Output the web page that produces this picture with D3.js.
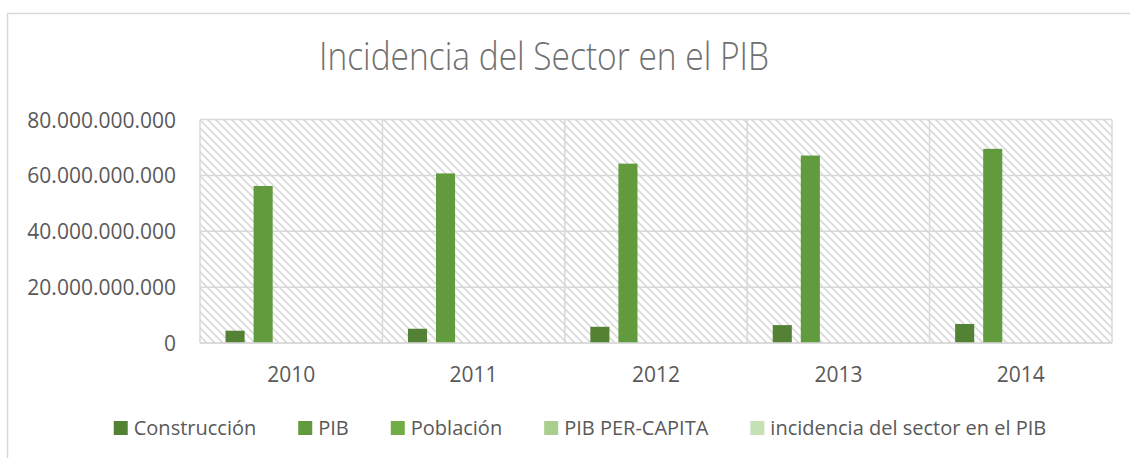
<!DOCTYPE html>
<html>
<head>
<meta charset="utf-8">
<script src="https://cdn.jsdelivr.net/npm/d3@7"></script>
<style>
  html, body { margin: 0; padding: 0; background: #ffffff; }
  svg { display: block; }
  text { font-family: "Open Sans", "Noto Sans", sans-serif; }
</style>
</head>
<body>
<svg id="chart" width="1130" height="458"></svg>
<script>
// ---- data ----
const years = ["2010", "2011", "2012", "2013", "2014"];
const seriesNames = ["Construcción", "PIB", "Población", "PIB PER-CAPITA", "incidencia del sector en el PIB"];
const construccion = [4.4e9, 5.1e9, 5.8e9, 6.4e9, 6.8e9];
const pib = [56.2e9, 60.7e9, 64.2e9, 67.1e9, 69.5e9];
const poblacion = [15.0e6, 15.3e6, 15.5e6, 15.8e6, 16.0e6];
const pibPerCapita = [3750, 3970, 4140, 4260, 4340];
const incidencia = [0.078, 0.084, 0.09, 0.095, 0.098];
const yTicks = [0, 20e9, 40e9, 60e9, 80e9];
const seriesColors = ["#548235", "#629b3e", "#70ad47", "#a9cf8f", "#c5e0b4"];

const seriesValues = [construccion, pib, poblacion, pibPerCapita, incidencia];

// ---- layout ----
const svg = d3.select("#chart");
const plot = { left: 200, right: 1112, top: 119.5, bottom: 343 };

const locale = d3.formatLocale({ decimal: ",", thousands: ".", grouping: [3], currency: ["$", ""] });
const fmt = locale.format(",.0f");

// outer frame
svg.append("rect")
  .attr("x", 7.5).attr("y", 13.5).attr("width", 1140).attr("height", 470)
  .attr("fill", "#ffffff").attr("stroke", "#d9d9d9").attr("stroke-width", 1.5);

// hatch pattern
const defs = svg.append("defs");
const pat = defs.append("pattern")
  .attr("id", "hatch").attr("patternUnits", "userSpaceOnUse")
  .attr("width", 8).attr("height", 8);
pat.append("rect").attr("width", 8).attr("height", 8).attr("fill", "#ffffff");
pat.append("path")
  .attr("d", "M-1,-1 L9,9 M-1,7 L1,9 M7,-1 L9,1")
  .attr("stroke", "#dadada").attr("stroke-width", 1.6);

// title
svg.append("text")
  .attr("x", 544).attr("y", 70)
  .attr("text-anchor", "middle")
  .attr("font-size", 38).attr("font-weight", 300)
  .attr("fill", "#707070")
  .attr("textLength", 450).attr("lengthAdjust", "spacingAndGlyphs")
  .text("Incidencia del Sector en el PIB");

// scales
const x0 = d3.scaleBand().domain(years).range([plot.left, plot.right]).paddingInner(0).paddingOuter(0);
const band = x0.bandwidth();
const slot = band / 6.5;
const x1 = d3.scaleBand().domain(seriesNames)
  .range([0.75 * slot, band - 0.75 * slot])
  .paddingInner(0.32).paddingOuter(0.16);
const y = d3.scaleLinear().domain([0, 80e9]).range([plot.bottom, plot.top]);

// plot background
svg.append("rect")
  .attr("x", plot.left).attr("y", plot.top)
  .attr("width", plot.right - plot.left).attr("height", plot.bottom - plot.top)
  .attr("fill", "url(#hatch)");

// horizontal gridlines
svg.append("g").selectAll("line").data(yTicks).join("line")
  .attr("x1", plot.left).attr("x2", plot.right)
  .attr("y1", d => y(d)).attr("y2", d => y(d))
  .attr("stroke", "#d9d9d9").attr("stroke-width", 1.5);

// vertical category separators
const sepX = years.map(d => x0(d)).concat([plot.right]);
svg.append("g").selectAll("line").data(sepX).join("line")
  .attr("x1", d => d).attr("x2", d => d)
  .attr("y1", plot.top).attr("y2", plot.bottom)
  .attr("stroke", "#d9d9d9").attr("stroke-width", 1.5);

// bars
const groups = svg.append("g").selectAll("g").data(years).join("g")
  .attr("transform", d => `translate(${x0(d)},0)`);
groups.selectAll("rect")
  .data((d, i) => seriesNames.map((s, j) => ({ s, j, v: seriesValues[j][i] })))
  .join("rect")
  .attr("x", d => x1(d.s))
  .attr("width", x1.bandwidth())
  .attr("y", d => y(d.v))
  .attr("height", d => y(0) - y(d.v))
  .attr("fill", d => seriesColors[d.j]);

// bottom axis line redraw on top
svg.append("line")
  .attr("x1", plot.left).attr("x2", plot.right)
  .attr("y1", y(0)).attr("y2", y(0))
  .attr("stroke", "#d9d9d9").attr("stroke-width", 1.5);

// y axis labels
const yAxis = d3.axisLeft(y).tickValues(yTicks).tickFormat(fmt).tickSize(0).tickPadding(0);
const gy = svg.append("g").attr("transform", `translate(176,0)`).call(yAxis);
gy.select(".domain").remove();
gy.selectAll("text")
  .attr("font-size", 21).attr("fill", "#595959")
  .attr("font-family", "'Open Sans', sans-serif")
  .attr("dy", "0.36em");

// x axis labels
const xAxis = d3.axisBottom(x0).tickSize(0).tickPadding(0);
const gx = svg.append("g").attr("transform", `translate(0,${plot.bottom})`).call(xAxis);
gx.select(".domain").remove();
gx.selectAll("text")
  .attr("font-size", 21).attr("fill", "#595959")
  .attr("font-family", "'Open Sans', sans-serif")
  .attr("dy", null).attr("y", 38.5);

// legend
const legend = svg.append("g");
const items = legend.selectAll("g").data(seriesNames).join("g");
items.append("rect")
  .attr("width", 14).attr("height", 14)
  .attr("y", -14)
  .attr("fill", (d, i) => seriesColors[i]);
items.append("text")
  .attr("x", 20).attr("y", 0)
  .attr("font-size", 20).attr("fill", "#595959")
  .text(d => d);
const gap = 42;
let cx = 0;
const positions = [];
items.each(function () {
  positions.push(cx);
  const w = d3.select(this).select("text").node().getComputedTextLength();
  cx += 20 + w + gap;
});
const total = cx - gap;
const startX = 580 - total / 2;
items.attr("transform", (d, i) => `translate(${startX + positions[i]},435)`);
</script>
</body>
</html>
